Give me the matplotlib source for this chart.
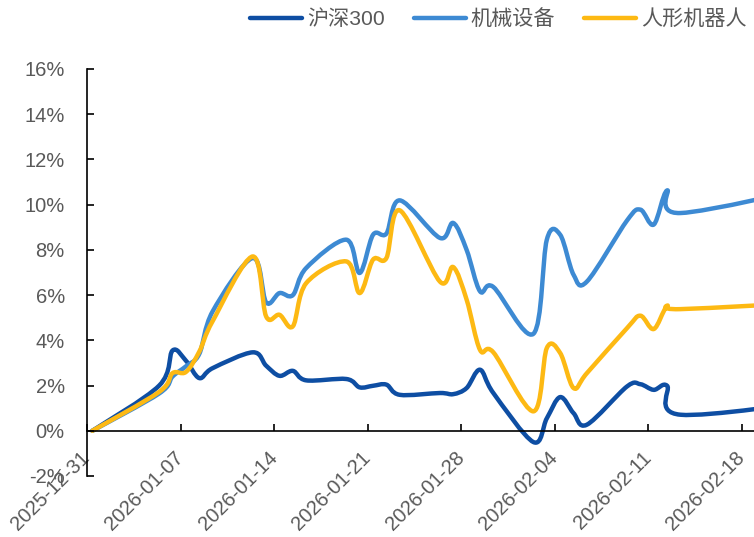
import numpy as np
import pandas as pd
import matplotlib
matplotlib.use('Agg')
import matplotlib.pyplot as plt
import matplotlib.dates as mdates
from matplotlib.path import Path
from matplotlib.patches import PathPatch
from matplotlib.lines import Line2D

plt.rcParams['font.family'] = ['Liberation Sans', 'Noto Sans CJK SC', 'DejaVu Sans']

# 交易日 (最后一个点在图外, 被裁掉)
dates = ['2025-12-31', '2026-01-05', '2026-01-06', '2026-01-07', '2026-01-08', '2026-01-09',
         '2026-01-12', '2026-01-13', '2026-01-14', '2026-01-15', '2026-01-16',
         '2026-01-19', '2026-01-20', '2026-01-21', '2026-01-22', '2026-01-23',
         '2026-01-26', '2026-01-27', '2026-01-28', '2026-01-29', '2026-01-30',
         '2026-02-02', '2026-02-03', '2026-02-04', '2026-02-05', '2026-02-06',
         '2026-02-09', '2026-02-10', '2026-02-11', '2026-02-12', '2026-02-13',
         '2026-02-24']

hs300 = [0, 2.0, 3.55, 3.1, 2.33, 2.77,
         3.47, 2.88, 2.43, 2.65, 2.23,
         2.29, 1.92, 1.99, 2.04, 1.59,
         1.67, 1.62, 1.89, 2.70, 1.67,
         -0.50, 0.55, 1.49, 0.78, 0.27,
         1.96, 2.06, 1.81, 1.99, 0.71,
         1.36]
machinery = [0, 1.65, 2.4, 2.85, 3.4, 5.28,
             7.64, 5.68, 6.09, 6.0, 7.2,
             8.45, 6.98, 8.67, 8.72, 10.19,
             8.53, 9.19, 8.0, 6.17, 6.36,
             4.29, 8.45, 8.67, 6.9, 6.6,
             9.3, 9.78, 9.12, 10.63, 9.63,
             10.9]
robot = [0, 1.72, 2.55, 2.6, 3.5, 4.85,
         7.71, 5.06, 5.13, 4.62, 6.53,
         7.49, 6.09, 7.57, 7.64, 9.75,
         6.6, 7.24, 5.8, 3.58, 3.47,
         0.86, 3.66, 3.44, 1.89, 2.55,
         4.54, 5.09, 4.5, 5.5, 5.38,
         5.71]

names = ['沪深300', '机械设备', '人形机器人']
colors = ['#0E4EA3', '#3D8AD3', '#FDB913']
series = [hs300, machinery, robot]

tick_dates = ['2025-12-31', '2026-01-07', '2026-01-14', '2026-01-21',
              '2026-01-28', '2026-02-04', '2026-02-11', '2026-02-18']
yticks = [-2, 0, 2, 4, 6, 8, 10, 12, 14, 16]


def smooth_path(x, y):
    # 平滑折线 (类似 Excel 的平滑线), 用三次贝塞尔控制点
    pts = np.column_stack([x, y])
    verts = [pts[0]]
    codes = [Path.MOVETO]
    n = len(pts)
    for i in range(n - 1):
        p0 = pts[i - 1] if i > 0 else pts[i]
        p1 = pts[i]
        p2 = pts[i + 1]
        p3 = pts[i + 2] if i + 2 < n else pts[i + 1]
        c1 = p1 + (p2 - p0) / 6.0
        c2 = p2 - (p3 - p1) / 6.0
        verts += [c1, c2, p2]
        codes += [Path.CURVE4] * 3
    return Path(verts, codes)


x = mdates.date2num(pd.to_datetime(dates)) + 0.4
x0 = mdates.date2num(pd.Timestamp('2025-12-31'))

fig = plt.figure(figsize=(7.54, 5.37), dpi=100)
ax = fig.add_axes([87 / 754, 1 - 476 / 537, 1 - 87 / 754, (476 - 69) / 537])

for vals, c in zip(series, colors):
    p = PathPatch(smooth_path(x, vals), facecolor='none', edgecolor=c, lw=3.2,
                  capstyle='round', joinstyle='round')
    ax.add_patch(p)

ax.set_xlim(x0, x0 + 49.9)
ax.set_ylim(-2, 16)

ax.spines['top'].set_visible(False)
ax.spines['right'].set_visible(False)
ax.spines['bottom'].set_position(('data', 0))
for s in ['left', 'bottom']:
    ax.spines[s].set_linewidth(1.2)
    ax.spines[s].set_color('black')

ax.set_xticks(mdates.date2num(pd.to_datetime(tick_dates)))
ax.set_xticklabels(tick_dates)
ax.set_yticks(yticks)
ax.set_yticklabels(['%d%%' % v for v in yticks])
ax.tick_params(axis='both', direction='in', length=5, width=1.2,
               labelsize=14.5, labelcolor='#595959')
ax.tick_params(axis='y', pad=16)
ax.tick_params(axis='x', pad=17)
for lab in ax.get_xticklabels():
    lab.set_rotation(45)
    lab.set_ha('right')
    lab.set_va('center')
    lab.set_rotation_mode('anchor')

handles = [Line2D([], [], color=c, lw=3.2, solid_capstyle='round') for c in colors]
leg = fig.legend(handles, names, loc='center left', bbox_to_anchor=(250 / 754, 1 - 19 / 537),
                 ncol=3, frameon=False, fontsize=15.2, handlelength=2.46,
                 handletextpad=0.24, columnspacing=1.37, borderpad=0, borderaxespad=0)
for t in leg.get_texts():
    t.set_color('#595959')
    t.set_family(['Liberation Sans', 'Noto Sans CJK SC'])

fig.savefig('out.png', dpi=100)
